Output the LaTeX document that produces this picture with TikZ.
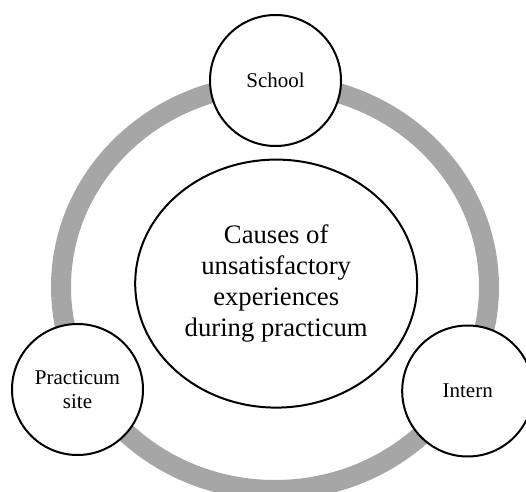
\documentclass[tikz,border=0pt]{standalone}
\usepackage{fontspec}
\setmainfont{Liberation Serif}
\usetikzlibrary{shapes.geometric}

\definecolor{ringgray}{RGB}{166,166,166}
\tikzset{every picture/.style={line width=0.75pt}}
\tikzset{
  topic/.style={draw, line width=1.5pt, fill=white, circle, minimum size=98.25pt, inner sep=0pt, align=center, font=\fontsize{15.75}{18}\selectfont},
  core/.style={draw, line width=1.5pt, fill=white, ellipse, minimum width=211.5pt, minimum height=186pt, inner sep=0pt, align=center, font=\fontsize{20}{23.25}\selectfont}
}

\begin{document}
\begin{tikzpicture}[x=0.75pt,y=0.75pt,yscale=-1,xscale=1]
\useasboundingbox (0,0) rectangle (526,492);
\clip (0,0) rectangle (526,492);

%Shape: Ellipse [ring behind the circles]
\draw [color=ringgray, line width=15pt] (275,287) ellipse [x radius=214, y radius=203];

%Shape: Ellipse [centre]
\node [core] (causes) at (276.2,283.6) {Causes of\\unsatisfactory\\experiences\\during practicum};

%Shape: Circle [top]
\node [topic] (school) at (275.5,80.5) {School};
%Shape: Circle [left]
\node [topic] (site) at (77.5,389.5) {Practicum\\site};
%Shape: Circle [right]
\node [topic] (intern) at (467.7,391) {Intern};

\end{tikzpicture}
\end{document}
